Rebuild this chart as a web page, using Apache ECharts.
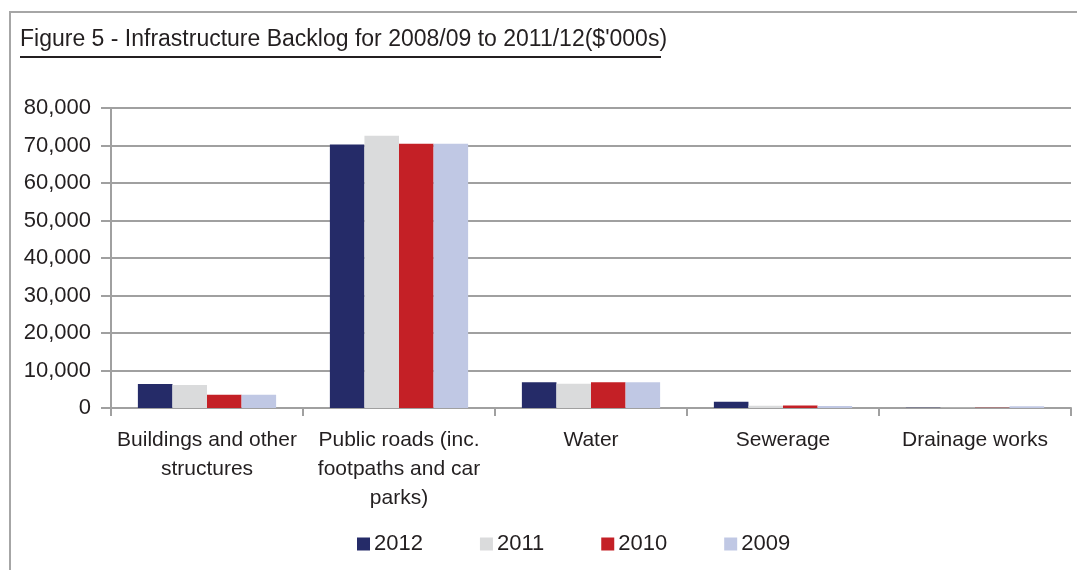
<!DOCTYPE html>
<html>
<head>
<meta charset="utf-8">
<script src="https://cdn.jsdelivr.net/npm/echarts@6/dist/echarts.min.js"></script>
<style>
html,body{margin:0;padding:0;background:#fff;}
#chart{width:1077px;height:570px;}
</style>
</head>
<body>
<div id="chart"></div>
<script>
var categories = ['Buildings and other\nstructures', 'Public roads (inc.\nfootpaths and car\nparks)', 'Water', 'Sewerage', 'Drainage works'];
var years = ['2012', '2011', '2010', '2009'];
var colors = ['#252b68', '#dadbdc', '#c42026', '#c0c8e4'];
var data2012 = [6400, 70300, 6850, 1700, 100];
var data2011 = [6150, 72600, 6500, 600, 100];
var data2010 = [3550, 70500, 6850, 700, 50];
var data2009 = [3550, 70500, 6850, 550, 500];
var seriesData = [data2012, data2011, data2010, data2009];

var font = '"Liberation Sans Narrow", "Liberation Sans", Arial, sans-serif';
var myChart = echarts.init(document.getElementById('chart'));

var series = [];
for (var i = 0; i < years.length; i++) {
    series.push({
        name: years[i],
        type: 'bar',
        barGap: '0%',
        barCategoryGap: '28%',
        itemStyle: {color: colors[i]},
        data: seriesData[i]
    });
}

var option = {
    backgroundColor: '#fff',
    animation: false,
    textStyle: {fontFamily: font},
    graphic: [
        // cadre extérieur
        {type: 'polyline', shape: {points: [[10, 570], [10, 12], [1077, 12]]},
         style: {stroke: '#a6a6a6', lineWidth: 2, fill: null}},
        {type: 'text', left: 20, top: 28,
         style: {text: "Figure 5 - Infrastructure Backlog for 2008/09 to 2011/12($'000s)",
                 font: '23px ' + font, fill: '#231f20'}},
        {type: 'line', shape: {x1: 20, y1: 57, x2: 661, y2: 57},
         style: {stroke: '#231f20', lineWidth: 2}}
    ],
    legend: {
        left: 352,
        top: 528,
        itemWidth: 13,
        itemHeight: 13,
        itemGap: 57,
        icon: 'rect',
        textStyle: {fontSize: 22, color: '#231f20', fontFamily: font, padding: [0, 0, 0, -1]},
        data: years
    },
    grid: {left: 111, right: 6, top: 108, bottom: 162},
    xAxis: {
        type: 'category',
        data: categories,
        axisLine: {lineStyle: {color: '#a0a0a0', width: 2}},
        axisTick: {show: true, length: 8, lineStyle: {color: '#a0a0a0', width: 2}},
        axisLabel: {fontSize: 21, color: '#231f20', lineHeight: 29, margin: 18, interval: 0}
    },
    yAxis: {
        type: 'value',
        min: 0,
        max: 80000,
        interval: 10000,
        axisLine: {show: true, lineStyle: {color: '#a0a0a0', width: 2}},
        axisTick: {show: true, length: 10, lineStyle: {color: '#a0a0a0', width: 2}},
        splitLine: {lineStyle: {color: '#a0a0a0', width: 2}},
        axisLabel: {
            fontSize: 22, color: '#231f20', margin: 20,
            formatter: function (v) { return v.toLocaleString('en-US'); }
        }
    },
    series: series
};
myChart.setOption(option);
</script>
</body>
</html>
